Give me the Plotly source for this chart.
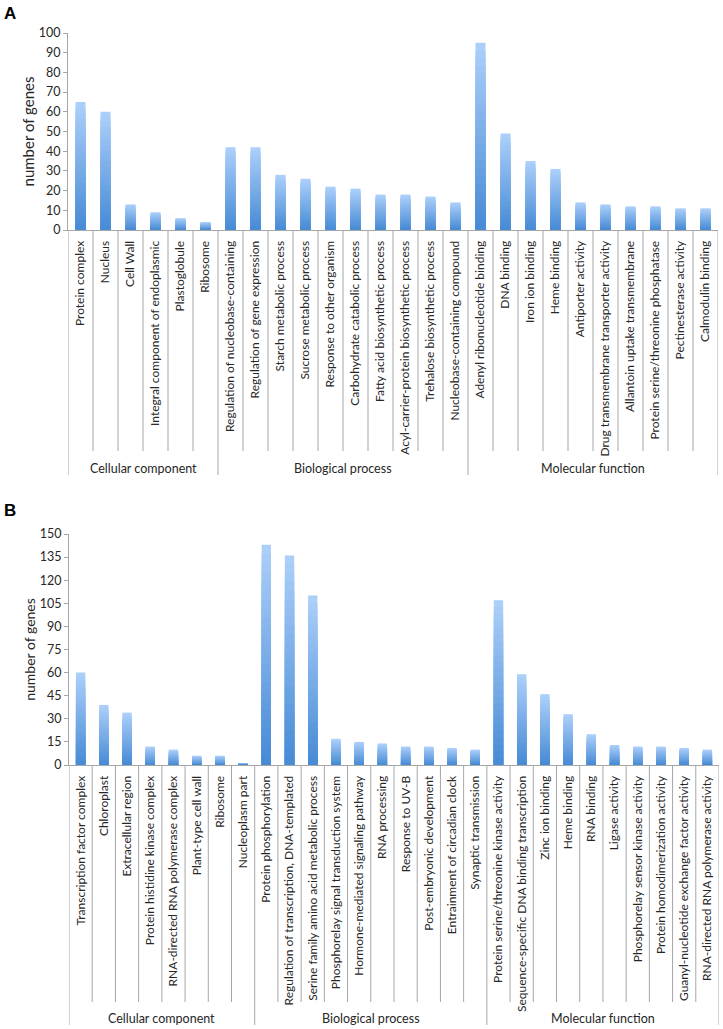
import plotly.graph_objects as go

# ---------------- data ----------------
a_labels = ["Protein complex", "Nucleus", "Cell Wall", "Integral component of endoplasmic",
            "Plastoglobule", "Ribosome",
            "Regulation of nucleobase-containing", "Regulation of gene expression",
            "Starch metabolic process", "Sucrose metabolic process", "Response to other organism",
            "Carbohydrate catabolic process", "Fatty acid biosynthetic process",
            "Acyl-carrier-protein biosynthetic process", "Trehalose biosynthetic process",
            "Nucleobase-containing compound",
            "Adenyl ribonucleotide binding", "DNA binding", "Iron ion binding", "Heme binding",
            "Antiporter activity", "Drug transmembrane transporter activity",
            "Allantoin uptake transmembrane", "Protein serine/threonine phosphatase",
            "Pectinesterase activity", "Calmodulin binding"]
a_values = [65, 60, 13, 9, 6, 4,
            42, 42, 28, 26, 22, 21, 18, 18, 17, 14,
            95, 49, 35, 31, 14, 13, 12, 12, 11, 11]
a_groups = ["Cellular component", "Biological process", "Molecular function"]
a_group_sizes = [6, 10, 10]

b_labels = ["Transcription factor complex", "Chloroplast", "Extracellular region",
            "Protein histidine kinase complex", "RNA-directed RNA polymerase complex",
            "Plant-type cell wall", "Ribosome", "Nucleoplasm part",
            "Protein phosphorylation", "Regulation of transcription, DNA-templated",
            "Serine family amino acid metabolic process", "Phosphorelay signal transduction system",
            "Hormone-mediated signaling pathway", "RNA processing", "Response to UV-B",
            "Post-embryonic development", "Entrainment of circadian clock", "Synaptic transmission",
            "Protein serine/threonine kinase activity", "Sequence-specific DNA binding transcription",
            "Zinc ion binding", "Heme binding", "RNA binding", "Ligase activity",
            "Phosphorelay sensor kinase activity", "Protein homodimerization activity",
            "Guanyl-nucleotide exchange factor activity", "RNA-directed RNA polymerase activity"]
b_values = [60, 39, 34, 12, 10, 6, 6, 1,
            143, 136, 110, 17, 15, 14, 12, 12, 11, 10,
            107, 59, 46, 33, 20, 13, 12, 12, 11, 10]
b_groups = ["Cellular component", "Biological process", "Molecular function"]
b_group_sizes = [8, 10, 10]

# ---------------- layout helpers ----------------
W, H = 723, 1029
def PX(p): return p / W
def PY(p): return 1 - p / H

FONT = "Lato"
LINE = "#a6a6a6"
TOP = (172, 207, 250)
BOT = (72, 140, 214)
N = 24

fig = go.Figure()

def add_panel(labels, values, xa, ya):
    xs = list(range(len(labels)))
    for k in range(N):
        f = k / (N - 1)
        c = tuple(int(TOP[i] + (BOT[i] - TOP[i]) * f) for i in range(3))
        fig.add_trace(go.Bar(
            x=xs, y=[v * (N - k) / N for v in values],
            marker=dict(color="rgb(%d,%d,%d)" % c, line=dict(width=0)),
            width=0.4, xaxis=xa, yaxis=ya, showlegend=False, hoverinfo="skip"))

add_panel(a_labels, a_values, "x", "y")
add_panel(b_labels, b_values, "x2", "y2")

def xaxis_cfg(dom, labels, anchor):
    return dict(domain=dom, anchor=anchor, range=[-0.5, len(labels) - 0.5],
                tickvals=list(range(len(labels))), ticktext=labels,
                tickangle=-90, ticks="", showline=True, linecolor=LINE, linewidth=1,
                tickfont=dict(family=FONT, size=12, color="#262626"),
                ticklabelstandoff=5, showgrid=False, zeroline=False, automargin=False)

def yaxis_cfg(dom, rng, dt, tsize, anchor, standoff):
    return dict(domain=dom, anchor=anchor, range=rng, dtick=dt, showline=True, linecolor=LINE,
                linewidth=1, ticks="outside", ticklen=4, tickcolor=LINE,
                tickfont=dict(family=FONT, size=12.5, color="#262626"),
                title=dict(text="number of genes", font=dict(family=FONT, size=tsize, color="#262626"),
                           standoff=standoff),
                showgrid=False, zeroline=False, automargin=False)

fig.update_layout(
    width=W, height=H, margin=dict(l=0, r=0, t=0, b=0),
    paper_bgcolor="white", plot_bgcolor="white",
    barmode="overlay", bargap=0.6,
    xaxis=xaxis_cfg([PX(68), PX(718)], a_labels, "y"),
    yaxis=yaxis_cfg([PY(230), PY(33)], [0, 100], 10, 15, "x", 0),
    xaxis2=xaxis_cfg([PX(69), PX(719)], b_labels, "y2"),
    yaxis2=yaxis_cfg([PY(765), PY(534)], [0, 150], 15, 14, "x2", 0),
)

shapes = []
annotations = []

def add_groups(xref, n, groups, sizes, y_axis, y_tick_end, y_group_end, y_label):
    bounds = [0]
    for s in sizes:
        bounds.append(bounds[-1] + s)
    for i in range(n + 1):
        end = y_group_end if i in bounds else y_tick_end
        shapes.append(dict(type="line", xref=xref, yref="paper",
                           x0=i - 0.5, x1=i - 0.5, y0=PY(y_axis), y1=PY(end),
                           line=dict(color=LINE, width=1)))
    for g, (s, e) in zip(groups, zip(bounds[:-1], bounds[1:])):
        annotations.append(dict(text=g, xref=xref, yref="paper", x=(s + e - 1) / 2, y=PY(y_label),
                                showarrow=False, xanchor="center", yanchor="middle",
                                font=dict(family=FONT, size=12.5, color="#262626")))

add_groups("x", len(a_labels), a_groups, a_group_sizes, 230, 451, 475, 468)
add_groups("x2", len(b_labels), b_groups, b_group_sizes, 765, 1002, 1025, 1018)

annotations.append(dict(text="<b>A</b>", xref="paper", yref="paper", x=PX(2), y=PY(2),
                        xanchor="left", yanchor="top", showarrow=False,
                        font=dict(family="Liberation Sans", size=17, color="black")))
annotations.append(dict(text="<b>B</b>", xref="paper", yref="paper", x=PX(2), y=PY(499),
                        xanchor="left", yanchor="top", showarrow=False,
                        font=dict(family="Liberation Sans", size=17, color="black")))

fig.update_layout(shapes=shapes, annotations=annotations)
fig.write_html("out.html", config={"displayModeBar": False},
               post_script="document.body.style.margin='0';")
